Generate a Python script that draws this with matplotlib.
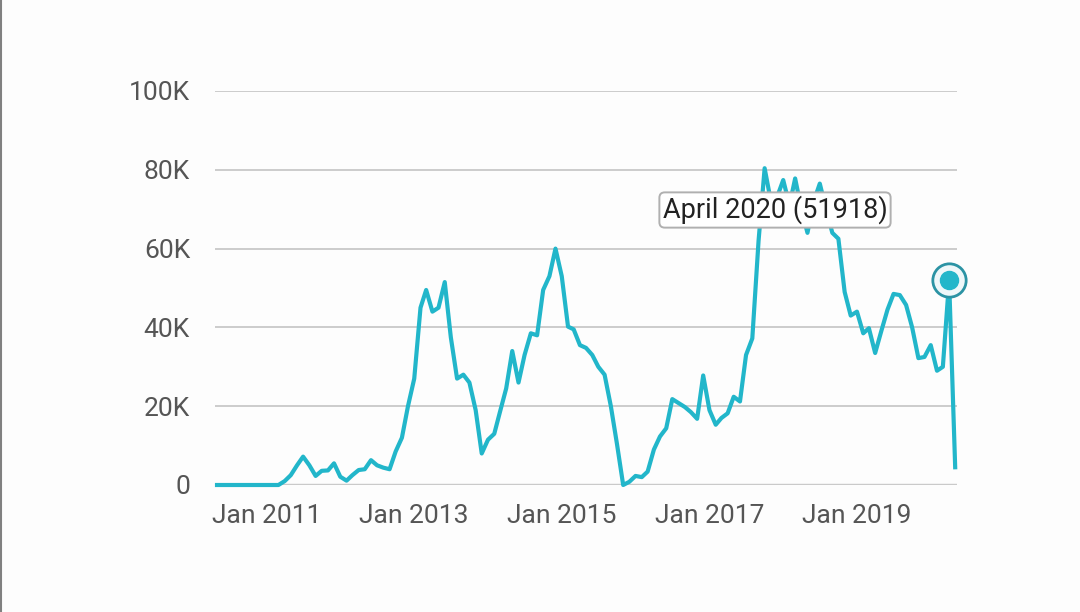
#!/usr/bin/env python3

import matplotlib
matplotlib.use("Agg")
import matplotlib.pyplot as plt
import pandas as pd
from matplotlib.lines import Line2D

# monthly values, May 2010 .. May 2020
months = pd.date_range("2010-05-01", "2020-05-01", freq="MS")
values = [
    0, 0, 0, 0, 0, 0, 0, 0, 0, 0, 0,                 # May 2010 - Mar 2011
    1000, 2500, 5000, 7200, 5000, 2300, 3600, 3700, 5500, 2100, 1100,
    2500, 3800, 4000, 6300, 5000, 4400, 4000, 8500, 12000, 20000, 27000,
    45000, 49500, 44000, 45000, 51500, 37500, 27000, 28000, 26000, 19000,
    8000, 11500, 13000, 18500, 24500, 34000, 26000, 33000, 38500, 38000,
    49500, 53000, 60000, 53000, 40200, 39500, 35500, 34800, 33000, 30000,
    28000, 20000, 10500, 0, 800, 2300, 2000, 3400, 9000, 12300, 14400,
    21800, 20800, 19800, 18500, 16800, 27800, 19000, 15300, 17000, 18200,
    22400, 21200, 33000, 37200, 62000, 80400, 72000, 73000, 77400, 71000,
    77800, 70000, 64000, 72000, 76500, 70000, 64000, 62500, 49000, 43000,
    44000, 38500, 39800, 33500, 39000, 44500, 48500, 48200, 45700, 40000,
    32200, 32500, 35500, 29000, 30000, 51918, 4500,
]

y_ticks = [0, 20000, 40000, 60000, 80000, 100000]
y_labels = ["0", "20K", "40K", "60K", "80K", "100K"]
x_ticks = ["2011-01-01", "2013-01-01", "2015-01-01", "2017-01-01", "2019-01-01"]
x_labels = ["Jan 2011", "Jan 2013", "Jan 2015", "Jan 2017", "Jan 2019"]

hl_date = "2020-04-01"
hl_value = 51918
hl_text = "April 2020 (51918)"

teal = "#22b6ca"
plt.rcParams["font.family"] = ["Roboto", "DejaVu Sans"]

fig = plt.figure(figsize=(10.8, 6.12), dpi=100, facecolor="#fdfdfd")
ax = fig.add_axes([215 / 1080, 1 - 485 / 612, 742 / 1080, 394 / 612])
ax.set_facecolor("#fdfdfd")

ax.plot(months, values, color=teal, lw=3.0, clip_on=False, zorder=3)

ax.set_ylim(0, 100000)
ax.set_xlim(pd.Timestamp("2010-04-21"), pd.Timestamp("2020-05-10"))
ax.set_yticks(y_ticks)
ax.set_yticklabels(y_labels)
ax.set_xticks(pd.to_datetime(x_ticks))
ax.set_xticklabels(x_labels)
ax.tick_params(axis="both", length=0, labelsize=19, colors="#555555")
ax.tick_params(axis="y", pad=18)
ax.tick_params(axis="x", pad=14)

for s in ax.spines.values():
    s.set_visible(False)
ax.grid(axis="y", color="#cccccc", lw=1.4, zorder=0)
ax.axhline(0, color="#9e9e9e", lw=1.6, zorder=1)

# highlighted point
hx = pd.Timestamp(hl_date)
ax.plot([hx], [hl_value], "o", ms=24, mfc="#eef7f9", mec="#2b93a4", mew=2,
        zorder=5, clip_on=False)
ax.plot([hx], [hl_value], "o", ms=13, mfc=teal, mec=teal, zorder=6,
        clip_on=False)

fig.text(775 / 1080, 1 - 210 / 612, hl_text, ha="center", va="center",
         fontsize=19.5, color="#222222",
         bbox=dict(boxstyle="round,pad=0.12,rounding_size=0.2", fc="white",
                   ec="#b0b0b0", lw=1.4))

# left frame line
fig.add_artist(Line2D([0.001, 0.001], [0, 1], color="#808080", lw=1.5))

fig.savefig("out.png", dpi=100, facecolor=fig.get_facecolor())
